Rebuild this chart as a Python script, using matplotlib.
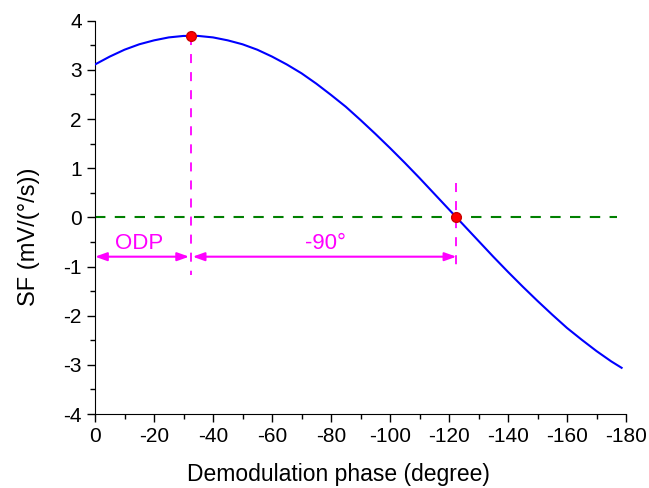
import matplotlib.pyplot as plt
from matplotlib.ticker import MultipleLocator

plt.rcParams['font.family'] = ['Liberation Sans', 'DejaVu Sans']

# demodulation phase (degree) and scale factor
phase = [0, -5, -10, -15, -20, -25, -30, -35, -40, -45, -50, -55, -60, -65,
         -70, -75, -80, -85, -90, -95, -100, -105, -110, -115, -120, -125,
         -130, -135, -140, -145, -150, -155, -160, -165, -170, -175, -178.5]
sf = [3.11, 3.27, 3.41, 3.52, 3.60, 3.66, 3.69, 3.69, 3.66, 3.60, 3.52, 3.41,
      3.27, 3.11, 2.93, 2.72, 2.49, 2.25, 1.98, 1.70, 1.41, 1.11, 0.80, 0.48,
      0.16, -0.16, -0.48, -0.80, -1.11, -1.41, -1.70, -1.98, -2.25, -2.49,
      -2.72, -2.93, -3.06]

peak_phase = -32.5
peak_sf = 3.69
zero_phase = -122.5
zero_sf = 0.0
arrow_y = -0.8
x_ticks = [0, -20, -40, -60, -80, -100, -120, -140, -160, -180]
y_ticks = [-4, -3, -2, -1, 0, 1, 2, 3, 4]

fig = plt.figure(figsize=(6.49, 4.88), dpi=100)
ax = fig.add_axes([0.1464, 0.1516, 0.8182, 0.806])

magenta = '#ff00ff'

ax.plot([0, -177], [0, 0], color='#008000', lw=1.5, ls=(0, (5, 4.5)), zorder=2)
ax.plot([peak_phase, peak_phase], [peak_sf, -1.17], color=magenta, lw=1.3,
        ls=(0, (5, 5)), zorder=2)
ax.plot([zero_phase, zero_phase], [0.7, -0.97], color=magenta, lw=1.3,
        ls=(0, (5, 5)), zorder=2)

ax.plot(phase, sf, color='#0000ff', lw=1.5, zorder=3)
ax.plot([peak_phase, zero_phase], [peak_sf, zero_sf], 'o', color='#ff0000',
        markeredgecolor='#cc0000', markersize=7, zorder=4)

arrow = dict(arrowstyle='<|-|>,head_length=0.7,head_width=0.25',
             color=magenta, lw=1.5, shrinkA=0, shrinkB=0)
ax.annotate('', xy=(0, arrow_y), xytext=(peak_phase + 0.6, arrow_y),
            arrowprops=arrow)
ax.annotate('', xy=(peak_phase - 0.6, arrow_y), xytext=(zero_phase, arrow_y),
            arrowprops=arrow)
ax.text(-15, -0.53, 'ODP', color=magenta, fontsize=16, ha='center', va='center')
ax.text(-78, -0.53, '-90°', color=magenta, fontsize=16,
        ha='center', va='center')

ax.set_xlim(0, -180)
ax.set_ylim(-4, 4)
ax.set_xticks(x_ticks)
ax.set_xticklabels([str(t) for t in x_ticks])
ax.set_yticks(y_ticks)
ax.set_yticklabels([str(t) for t in y_ticks])
ax.xaxis.set_minor_locator(MultipleLocator(10))
ax.yaxis.set_minor_locator(MultipleLocator(0.5))
ax.tick_params(which='major', direction='out', length=6, width=1, labelsize=15)
ax.tick_params(which='minor', direction='out', length=3.5, width=1)
ax.spines['top'].set_visible(False)
ax.spines['right'].set_visible(False)

ax.set_xlabel('Demodulation phase (degree)', fontsize=16.5)
ax.set_ylabel('SF (mV/(°/s))', fontsize=17)
ax.xaxis.set_label_coords(0.458, -0.124)
ax.yaxis.set_label_coords(-0.104, 0.45)

fig.savefig('out.png', dpi=100)
